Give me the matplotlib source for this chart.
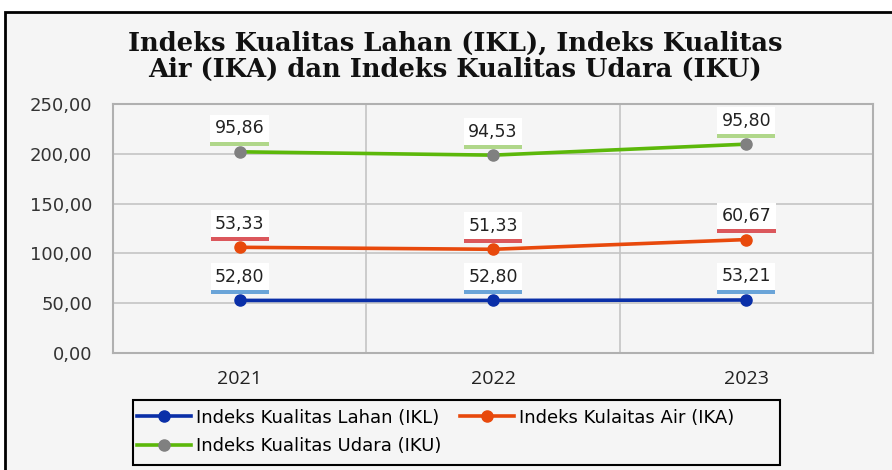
import matplotlib.pyplot as plt
import matplotlib.patches as patches
import matplotlib.patheffects as pe
import numpy as np

years = ['2021', '2022', '2023']
ikl = [52.80, 52.80, 53.21]
ika = [53.33, 51.33, 60.67]
iku = [95.86, 94.53, 95.80]

names = ['Indeks Kualitas Lahan (IKL)', 'Indeks Kulaitas Air (IKA)', 'Indeks Kualitas Udara (IKU)']
line_colors = ['#0a2fa8', '#e8490c', '#5cb80a']
marker_colors = ['#0a2fa8', '#e8490c', '#808080']
shadow_colors = ['#5b9bd5', '#d9464b', '#a9d47f']

bg = '#f5f5f5'
fig = plt.figure(figsize=(8.92, 4.7), dpi=100, facecolor='white')
# outer chart frame, cut off at right and bottom
fig.patches.append(patches.Rectangle((5 / 892, -0.2), 1.2, 1.2 - 12 / 470,
                                     transform=fig.transFigure, facecolor=bg,
                                     edgecolor='black', linewidth=2, zorder=-2))
ax = fig.add_axes([113 / 892, 1 - 353 / 470, 760 / 892, 249 / 470])
ax.set_facecolor(bg)

x = np.arange(len(years))
stacked = np.cumsum(np.array([ikl, ika, iku]), axis=0)
handles = []
for i, (vals, top) in enumerate(zip([ikl, ika, iku], stacked)):
    h, = ax.plot(x, top, color=line_colors[i], linewidth=2.6, marker='o', markersize=8,
                 markerfacecolor=marker_colors[i], markeredgecolor=marker_colors[i],
                 label=names[i], zorder=3)
    handles.append(h)
    for xi, yi, v in zip(x, top, vals):
        lab = ('%.2f' % v).replace('.', ',')
        t = ax.annotate(lab, (xi, yi), xytext=(0, 17), textcoords='offset points',
                        ha='center', va='center', fontsize=12.5, color='#222222',
                        family='DejaVu Sans', zorder=5,
                        bbox=dict(boxstyle='square,pad=0.25', fc='white', ec='none'))
        t.get_bbox_patch().set_path_effects([
            pe.SimplePatchShadow(offset=(0, -3), shadow_rgbFace=shadow_colors[i], alpha=0.9),
            pe.Normal()])

ax.set_xlim(-0.5, 2.5)
ax.set_ylim(0, 250)
ax.set_yticks(np.arange(0, 251, 50))
ax.set_yticklabels([('%.2f' % t).replace('.', ',') for t in np.arange(0, 251, 50)],
                   fontsize=13, family='DejaVu Sans', color='#333333')
ax.set_xticks(x)
ax.set_xticklabels(years, fontsize=14, family='Open Sans', color='#222222')
ax.set_xticks([0.5, 1.5], minor=True)
ax.tick_params(axis='both', which='both', length=0)
ax.tick_params(axis='y', pad=15)
ax.tick_params(axis='x', pad=12)
ax.grid(True, axis='y', color='#c4c4c4', linewidth=1.2)
ax.grid(True, axis='x', which='minor', color='#c4c4c4', linewidth=1.2)
for s in ax.spines.values():
    s.set_color('#b0b0b0')
    s.set_linewidth(1.5)

fig.text(0.51, 1 - 56 / 470, 'Indeks Kualitas Lahan (IKL), Indeks Kualitas\nAir (IKA) dan Indeks Kualitas Udara (IKU)',
         ha='center', va='center', fontsize=18.5, fontweight='bold',
         family='DejaVu Serif', linespacing=1.08, color='#111111')

# legend frame drawn separately so it can be wider than its content
fig.patches.append(patches.Rectangle((133 / 892, 5 / 470), 647 / 892, 65 / 470,
                                     transform=fig.transFigure, facecolor=bg,
                                     edgecolor='black', linewidth=1.5, zorder=-1))
leg = fig.legend([handles[0], handles[2], handles[1]], [names[0], names[2], names[1]],
                 ncol=2, loc='center left', bbox_to_anchor=(137 / 892, 38 / 470),
                 frameon=False, prop={'family': 'DejaVu Sans', 'size': 13},
                 handlelength=3.0, handletextpad=0.28, columnspacing=1.0,
                 borderaxespad=0, borderpad=0, labelspacing=0.6)

fig.savefig('out.png', dpi=100, facecolor='white')
